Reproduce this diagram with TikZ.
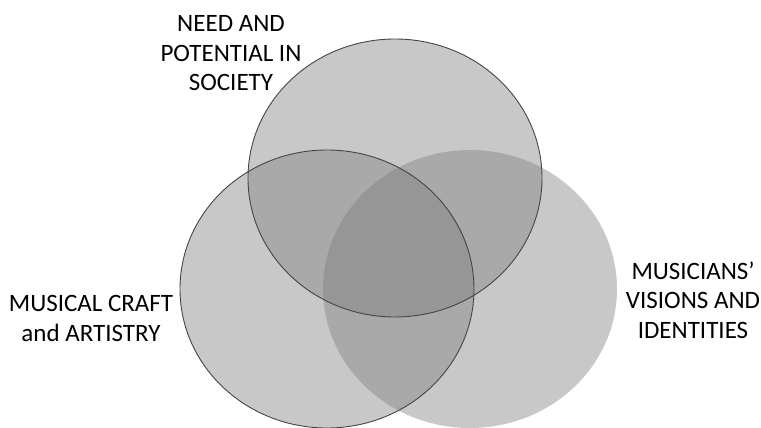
\documentclass[tikz,border=0pt]{standalone}
\usepackage{fontspec}
\setmainfont{Carlito}
\usetikzlibrary{shapes.geometric}
\definecolor{vennfill}{gray}{0.49}
\definecolor{vennline}{gray}{0.27}
\newcommand{\Lbl}{\fontsize{25}{29.5}\selectfont}

\begin{document}
\begin{tikzpicture}[x=1pt, y=-1pt,
                    blob/.style={ellipse, minimum width=294pt, minimum height=278pt,
                                 inner sep=0pt, fill=vennfill, fill opacity=0.42},
                    rim/.style={draw=vennline, line width=0.9pt},
                    lbl/.style={align=center, anchor=base, inner sep=0pt, font=\Lbl}]

                \useasboundingbox (0,0) rectangle (761,428);

                % the three sets
                \draw(470,289) node[blob] (vision) {};
                \draw(327,289) node[blob] (craft) {};
                \draw(395,178) node[blob] (society) {};

                % outlines on top
                \draw(327,289) node[ellipse, minimum width=294pt, minimum height=278pt, inner sep=0pt, rim] (craftrim) {};
                \draw(395,178) node[ellipse, minimum width=294pt, minimum height=278pt, inner sep=0pt, rim] (societyrim) {};

                \draw(231,91) node[lbl] (A) {NEED AND\\POTENTIAL IN\\SOCIETY};
                \draw(91,341) node[lbl] (B) {MUSICAL CRAFT\\and ARTISTRY};
                \draw(693,338) node[lbl] (C) {MUSICIANS’\\VISIONS AND\\IDENTITIES};

            \end{tikzpicture}
\end{document}
